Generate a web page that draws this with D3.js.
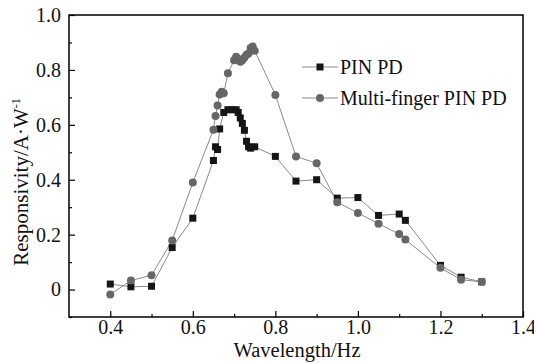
<!DOCTYPE html>
<html><head><meta charset="utf-8">
<script src="https://cdn.jsdelivr.net/npm/d3@7"></script>
<style>body{margin:0;background:#fff}svg{display:block}text{font-family:"Liberation Serif","Times New Roman",serif}</style>
</head><body><svg id="c" width="534" height="363"></svg>
<script>
const pinX = [0.40,0.45,0.50,0.55,0.60,0.65,0.655,0.66,0.665,0.675,0.685,0.695,0.705,0.71,0.715,0.72,0.725,0.73,0.735,0.74,0.75,0.80,0.85,0.90,0.95,1.00,1.05,1.10,1.115,1.20,1.25,1.30];
const pinY = [0.02,0.01,0.012,0.153,0.26,0.47,0.52,0.51,0.585,0.645,0.655,0.655,0.655,0.645,0.625,0.605,0.58,0.54,0.52,0.515,0.52,0.485,0.395,0.40,0.333,0.335,0.27,0.275,0.252,0.088,0.045,0.028];
const mfX = [0.40,0.45,0.50,0.55,0.60,0.65,0.655,0.66,0.665,0.67,0.675,0.685,0.70,0.705,0.71,0.715,0.72,0.725,0.73,0.735,0.74,0.745,0.75,0.80,0.85,0.90,0.95,1.00,1.05,1.10,1.115,1.20,1.25,1.30];
const mfY = [-0.018,0.033,0.052,0.179,0.39,0.582,0.632,0.67,0.71,0.72,0.715,0.788,0.835,0.848,0.84,0.83,0.835,0.845,0.855,0.86,0.88,0.885,0.87,0.709,0.485,0.46,0.318,0.279,0.24,0.202,0.182,0.079,0.036,0.028];
const xTicks = [0.4,0.6,0.8,1.0,1.2,1.4];
const xMinor = [0.5,0.7,0.9,1.1,1.3];
const yTicks = [0,0.2,0.4,0.6,0.8,1.0];
const yMinor = [-0.1,0.1,0.3,0.5,0.7,0.9];
const seriesNames = ["PIN PD","Multi-finger PIN PD"];

const svg = d3.select("#c");
const L=69, R=523, T=15, B=317;
const x = d3.scaleLinear().domain([0.3,1.4]).range([L,R]);
const y = d3.scaleLinear().domain([-0.1,1.0]).range([B,T]);

const lineCol="#8a8a8a";
const line = d3.line().x(d=>x(d[0])).y(d=>y(d[1]));
const pin = pinX.map((v,i)=>[v,pinY[i]]);
const mf = mfX.map((v,i)=>[v,mfY[i]]);

svg.append("path").attr("d",line(pin)).attr("fill","none").attr("stroke",lineCol).attr("stroke-width",1);
svg.append("path").attr("d",line(mf)).attr("fill","none").attr("stroke",lineCol).attr("stroke-width",1);
svg.append("g").selectAll("rect").data(pin).join("rect")
  .attr("x",d=>x(d[0])-3.5).attr("y",d=>y(d[1])-3.5).attr("width",7).attr("height",7).attr("fill","#151515");
svg.append("g").selectAll("circle").data(mf).join("circle")
  .attr("cx",d=>x(d[0])).attr("cy",d=>y(d[1])).attr("r",4).attr("fill","#666");

const fmt = d=> d===0 ? "0" : d3.format(".1f")(d);
svg.append("g").attr("class","xa").attr("transform",`translate(0,${B})`)
  .call(d3.axisBottom(x).tickValues(xTicks).tickSize(-6).tickFormat(fmt));
svg.selectAll(".xa .tick text").attr("y",17).attr("dy","0");
svg.append("g").attr("transform",`translate(0,${B})`)
  .call(d3.axisBottom(x).tickValues(xMinor).tickSize(-3).tickFormat(""));
svg.append("g").attr("transform",`translate(${L},0)`)
  .call(d3.axisLeft(y).tickValues(yTicks).tickSize(-6).tickPadding(8).tickFormat(fmt));
svg.append("g").attr("transform",`translate(${L},0)`)
  .call(d3.axisLeft(y).tickValues(yMinor).tickSize(-3).tickFormat(""));
svg.selectAll(".tick line").attr("stroke","#000").attr("stroke-width",1.2);
svg.selectAll(".tick text").attr("font-size",20).attr("font-family","Liberation Serif").attr("fill","#111");
svg.selectAll(".domain").remove();
svg.append("rect").attr("x",L).attr("y",T).attr("width",R-L).attr("height",B-T)
  .attr("fill","none").attr("stroke","#000").attr("stroke-width",1.5);

svg.append("text").attr("x",297).attr("y",357).attr("text-anchor","middle").attr("font-size",20.5).attr("fill","#111").text("Wavelength/Hz");
const yt = svg.append("text").attr("transform",`translate(28,182) rotate(-90)`).attr("text-anchor","middle").attr("font-size",21).attr("fill","#111");
yt.append("tspan").text("Responsivity/A·W");
yt.append("tspan").attr("dy",-8).attr("font-size",12).text("-1");

const leg = svg.append("g");
const lrows = [{n:seriesNames[0],shape:"sq",y:67},{n:seriesNames[1],shape:"ci",y:98}];
lrows.forEach(r=>{
  leg.append("line").attr("x1",302).attr("x2",338).attr("y1",r.y).attr("y2",r.y).attr("stroke",lineCol).attr("stroke-width",1);
  if(r.shape==="sq") leg.append("rect").attr("x",316.5).attr("y",r.y-3.5).attr("width",7).attr("height",7).attr("fill","#151515");
  else leg.append("circle").attr("cx",320).attr("cy",r.y).attr("r",4).attr("fill","#666");
  leg.append("text").attr("x",340).attr("y",r.y+7).attr("font-size",20).attr("fill","#111").text(r.n);
});
</script></body></html>
